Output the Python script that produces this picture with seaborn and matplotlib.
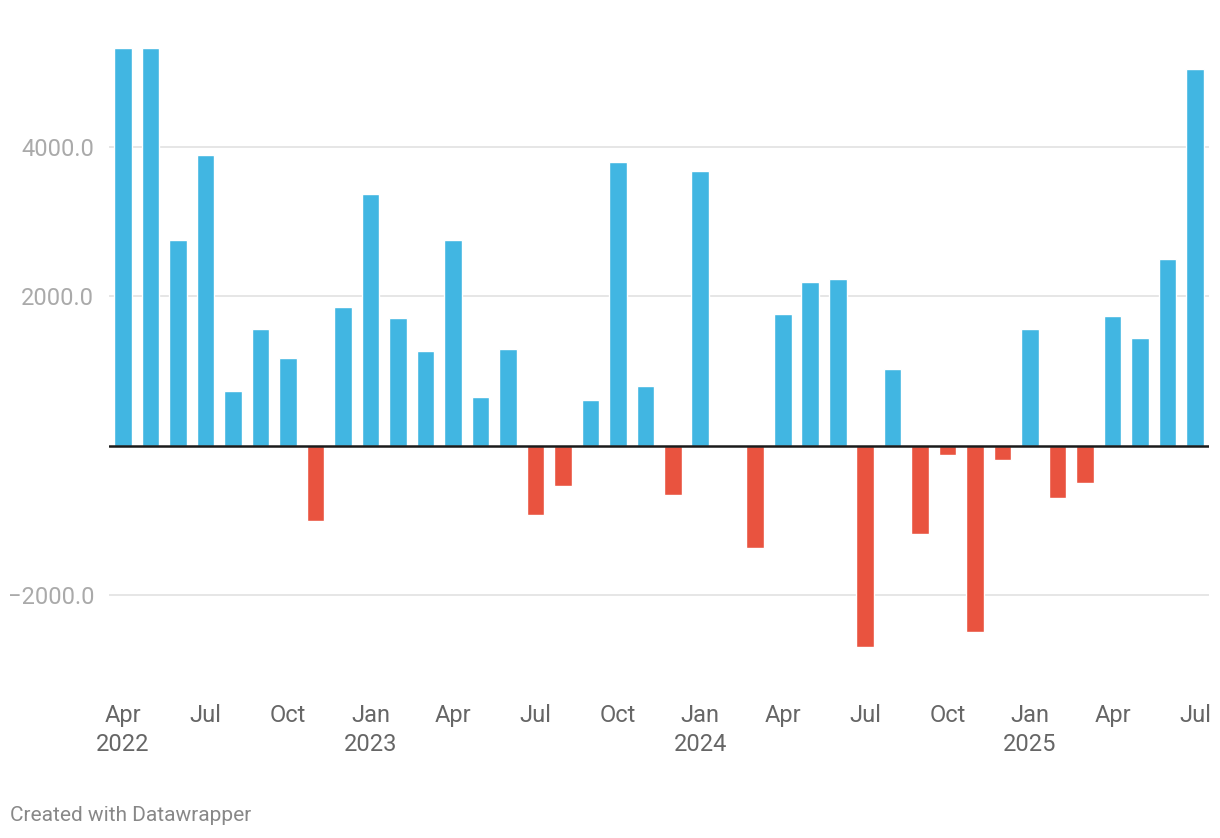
import pandas as pd
import matplotlib.pyplot as plt
import seaborn as sns

# Monthly values, Apr 2022 - Jul 2025
months = pd.date_range("2022-04-01", "2025-07-01", freq="MS")
values = [5330, 5320, 2760, 3900, 740, 1570, 1170, -1003, 1865,
          3365, 1715, 1275, 2760, 660, 1300, -923, -535, 620, 3805, 795, -656,
          3685, 0, -1365, 1770, 2200, 2240, -2690, 1035, -1177, -120, -2489, -187,
          1570, -696, -495, 1745, 1450, 2508, 5050]
yticks = [-2000, 2000, 4000]

df = pd.DataFrame({"month": months.strftime("%Y-%m"), "value": values})
df["sign"] = ["pos" if v >= 0 else "neg" for v in df["value"]]

sns.set_style("white")
plt.rcParams["font.family"] = ["Roboto", "DejaVu Sans"]

fig = plt.figure(figsize=(12.2, 8.38), dpi=100)
ax = fig.add_axes([0.0896, 0.2184, 0.9012, 0.7398])

for t in yticks:
    ax.axhline(t, color="#e2e2e2", lw=1.2, zorder=0)

sns.barplot(data=df, x="month", y="value", hue="sign",
            palette={"pos": "#41b6e2", "neg": "#e9533f"},
            dodge=False, width=0.64, legend=False, saturation=1, ax=ax, zorder=2)
ax.axhline(0, color="#1a1a1a", lw=1.8, zorder=3)

ax.set_xlim(-0.5, len(values) - 0.5)
ax.set_ylim(-2800, 5500)

# x ticks every 3 months, year shown in January (and first label)
pos, labs = [], []
for i, m in enumerate(months):
    if m.month in (1, 4, 7, 10):
        lab = m.strftime("%b")
        if m.month == 1 or i == 0:
            lab += "\n" + str(m.year)
        pos.append(i)
        labs.append(lab)
ax.set_xticks(pos)
ax.set_xticklabels(labs, fontsize=17, color="#666666", linespacing=1.38,
                   va="top")
ax.tick_params(axis="x", length=0, pad=35)

ax.set_yticks(yticks)
ax.set_yticklabels([f"{t:.1f}".replace("-", "\u2212") for t in yticks],
                   fontsize=17, color="#aaaaaa")
ax.tick_params(axis="y", length=0, pad=11)

ax.set_xlabel("")
ax.set_ylabel("")
sns.despine(ax=ax, left=True, bottom=True)

fig.text(10 / 1220, 1 - 815 / 838, "Created with Datawrapper", fontsize=15,
         color="#888888", va="center", ha="left")

fig.savefig("out.png", dpi=100)
